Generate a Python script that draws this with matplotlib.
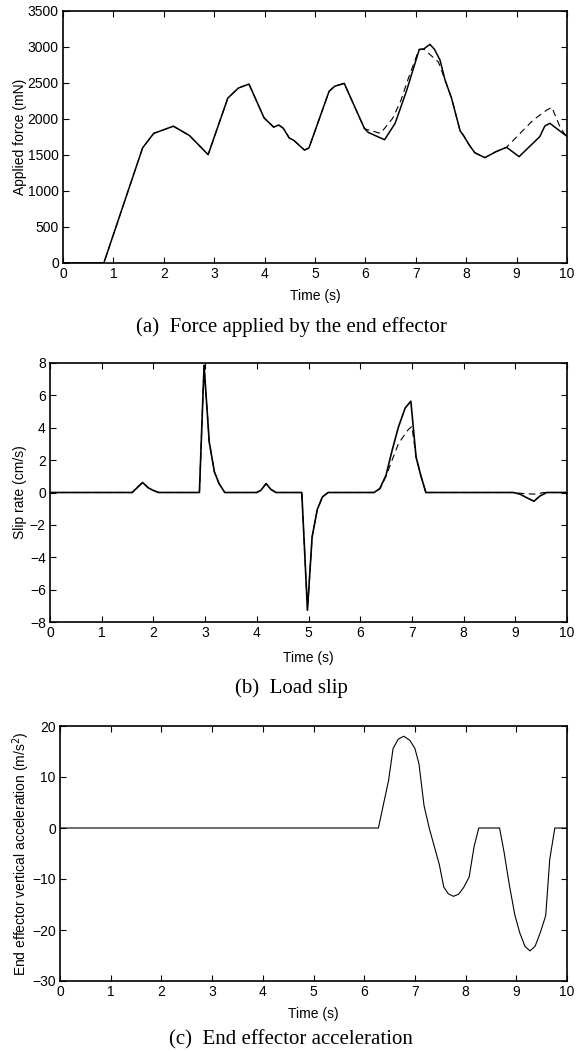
import matplotlib
matplotlib.use("Agg")
import matplotlib.pyplot as plt

# ---------------- data ----------------
# (a) Force applied by the end effector
t_force = [0, 0.81, 1.58, 1.80, 2.19, 2.51, 2.88, 3.27, 3.48, 3.69, 3.99, 4.18, 4.28,
           4.37, 4.49, 4.58, 4.79, 4.88, 5.28, 5.39, 5.58, 5.98, 6.06, 6.38, 6.59,
           6.82, 7.07, 7.15, 7.28, 7.37, 7.48, 7.58, 7.71, 7.88, 7.94, 8.06, 8.17,
           8.37, 8.59, 8.80, 9.05, 9.46, 9.56, 9.66, 9.86, 10.0]
force_measured = [0, 0, 1600, 1800, 1900, 1770, 1505, 2290, 2430, 2485, 2015, 1887, 1917,
                  1872, 1735, 1703, 1569, 1598, 2385, 2455, 2495, 1870, 1812, 1712, 1940,
                  2400, 2968, 2968, 3037, 2968, 2819, 2542, 2287, 1833, 1778, 1639, 1532,
                  1463, 1546, 1607, 1477, 1755, 1903, 1940, 1833, 1760]

t_force_ref = [0, 0.81, 1.58, 1.80, 2.19, 2.51, 2.88, 3.27, 3.48, 3.69, 3.99, 4.18, 4.28,
               4.37, 4.49, 4.58, 4.79, 4.88, 5.28, 5.39, 5.58, 5.98, 6.30, 6.54, 6.70,
               6.85, 7.06, 7.15, 7.25, 7.45, 7.58, 7.71, 7.88, 7.94, 8.06, 8.17, 8.37,
               8.59, 8.80, 9.07, 9.33, 9.60, 9.70, 9.86, 10.0]
force_ref = [0, 0, 1600, 1800, 1900, 1770, 1505, 2290, 2430, 2485, 2015, 1887, 1917,
             1872, 1735, 1703, 1569, 1598, 2385, 2455, 2495, 1865, 1800, 2009, 2250,
             2560, 2960, 2975, 2915, 2790, 2542, 2287, 1833, 1778, 1639, 1532, 1463,
             1546, 1607, 1801, 1986, 2125, 2162, 1893, 1740]

# (b) Load slip
t_slip = [0, 1.59, 1.79, 1.90, 1.99, 2.10, 2.89, 2.98, 3.08, 3.18, 3.27, 3.38, 4.0, 4.08,
          4.18, 4.27, 4.37, 4.87, 4.98, 5.07, 5.17, 5.27, 5.38, 6.27, 6.38, 6.50, 6.61,
          6.74, 6.87, 6.98, 7.08, 7.17, 7.27, 8.96, 9.09, 9.25, 9.36, 9.48, 9.61, 10.0]
slip_measured = [0, 0, 0.62, 0.29, 0.14, 0, 0, 7.86, 3.12, 1.27, 0.55, 0, 0, 0.14,
                 0.55, 0.2, 0, 0, -7.27, -2.74, -1.05, -0.27, 0, 0, 0.25, 1.07, 2.51,
                 4.05, 5.22, 5.64, 2.20, 1.07, 0, 0, -0.1, -0.37, -0.54, -0.21, 0, 0]

t_slip_ref = [0, 1.59, 1.79, 1.90, 1.99, 2.10, 2.89, 2.98, 3.08, 3.18, 3.27, 3.38, 4.0,
              4.08, 4.18, 4.27, 4.37, 4.87, 4.98, 5.07, 5.17, 5.27, 5.38, 6.27, 6.38,
              6.50, 6.58, 6.74, 6.92, 7.00, 7.08, 7.17, 7.27, 8.96, 9.20, 9.40, 9.55, 10.0]
slip_ref = [0, 0, 0.62, 0.29, 0.14, 0, 0, 7.86, 3.12, 1.27, 0.55, 0, 0,
            0.14, 0.55, 0.2, 0, 0, -7.27, -2.74, -1.05, -0.27, 0, 0, 0.22,
            1.0, 1.69, 3.02, 3.85, 4.09, 2.20, 1.07, 0, 0, -0.08, -0.1, 0, 0]

# (c) End effector acceleration
t_acc = [0, 6.28, 6.48, 6.57, 6.67, 6.78, 6.90, 7.0, 7.08, 7.18, 7.28, 7.36, 7.48, 7.57,
         7.66, 7.76, 7.86, 7.96, 8.07, 8.17, 8.26, 8.67, 8.76, 8.86, 8.97, 9.07, 9.17,
         9.27, 9.37, 9.47, 9.58, 9.66, 9.76, 10.0]
acc = [0, 0, 9.3, 15.6, 17.4, 18.0, 17.2, 15.6, 12.6, 4.4, 0.1, -2.8, -7.1, -11.6,
       -12.9, -13.4, -13.0, -11.7, -9.6, -3.5, 0, 0, -4.8, -11.0, -17.0, -20.6, -23.2,
       -24.1, -23.2, -20.6, -17.2, -6.1, 0, 0]

x_ticks = list(range(0, 11))
force_ticks = list(range(0, 3501, 500))
slip_ticks = list(range(-8, 9, 2))
acc_ticks = list(range(-30, 21, 10))

captions = ["(a)  Force applied by the end effector",
            "(b)  Load slip",
            "(c)  End effector acceleration"]

# ---------------- style ----------------
plt.rcParams['font.family'] = ['Liberation Sans', 'DejaVu Sans']
plt.rcParams['font.size'] = 10

W, H = 582, 1052
fig = plt.figure(figsize=(W / 100, H / 100), dpi=100)


def px_axes(left, right, top, bottom):
    return fig.add_axes([left / W, 1 - bottom / H, (right - left) / W, (bottom - top) / H])


def style(ax, yticks, ylim, ylabel, ylab_x, xlab_y):
    ax.set_xlim(0, 10)
    ax.set_ylim(*ylim)
    ax.set_xticks(x_ticks)
    ax.set_yticks(yticks)
    ax.tick_params(direction='in', top=True, right=True, length=4, width=0.8,
                   labelsize=10, pad=3)
    for s in ax.spines.values():
        s.set_linewidth(1.2)
    ax.set_xlabel("Time (s)", fontsize=10)
    ax.set_ylabel(ylabel, fontsize=10)
    ax.xaxis.set_label_coords(0.5, xlab_y)
    ax.yaxis.label.set_verticalalignment('center')
    ax.yaxis.set_label_coords(ylab_x, 0.5)


# Panel (a)
ax1 = px_axes(63, 567, 11, 263)
ax1.plot(t_force_ref, force_ref, color='black', lw=0.8, ls=(0, (6, 4)))
ax1.plot(t_force, force_measured, color='black', lw=1.1)
style(ax1, force_ticks, (0, 3500), "Applied force (mN)",
      (20 - 63) / 504, -(289 - 263) / 252)

# Panel (b)
ax2 = px_axes(50, 567, 363, 622)
ax2.plot(t_slip_ref, slip_ref, color='black', lw=0.8, ls=(0, (6, 4)))
ax2.plot(t_slip, slip_measured, color='black', lw=1.2)
style(ax2, slip_ticks, (-8, 8), "Slip rate (cm/s)",
      (20 - 50) / 517, -(651 - 622) / 259)

# Panel (c)
ax3 = px_axes(60, 567, 726, 981)
ax3.plot(t_acc, acc, color='black', lw=0.8)
style(ax3, acc_ticks, (-30, 20), "End effector vertical acceleration (m/s$^2$)",
      (21 - 60) / 507, -(1007 - 981) / 255)

cap_y = [327, 688, 1040]
for c, y in zip(captions, cap_y):
    fig.text(0.5, 1 - y / H, c, ha='center', va='center',
             family=['Liberation Serif', 'DejaVu Serif'], fontsize=15)

fig.savefig("out.png", dpi=100)
